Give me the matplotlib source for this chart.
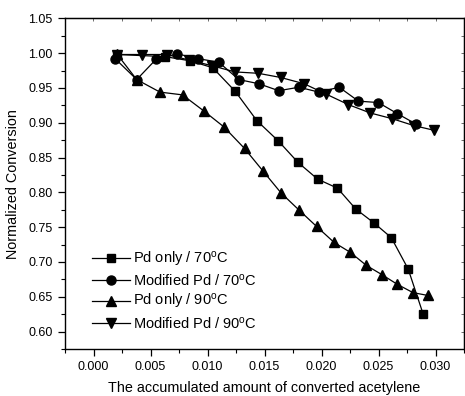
import matplotlib
matplotlib.use("Agg")
import matplotlib.pyplot as plt

plt.rcParams['font.family'] = ['Liberation Sans', 'DejaVu Sans']
plt.rcParams['mathtext.fontset'] = 'custom'
plt.rcParams['mathtext.rm'] = 'Liberation Sans'
plt.rcParams['mathtext.it'] = 'Liberation Sans:italic'

# Pd only / 70C
x_pd70 = [0.00204, 0.00626, 0.00845, 0.01046, 0.01244, 0.01433, 0.01620, 0.01794,
          0.01966, 0.02140, 0.02301, 0.02461, 0.02612, 0.02760, 0.02892]
y_pd70 = [0.998, 0.995, 0.989, 0.979, 0.945, 0.903, 0.874, 0.843,
          0.819, 0.806, 0.776, 0.756, 0.735, 0.690, 0.625]

# Modified Pd / 70C
x_mod70 = [0.00190, 0.00379, 0.00548, 0.00734, 0.00917, 0.01098, 0.01275, 0.01450,
           0.01625, 0.01802, 0.01977, 0.02155, 0.02324, 0.02498, 0.02666, 0.02830]
y_mod70 = [0.992, 0.962, 0.991, 0.999, 0.992, 0.987, 0.962, 0.956,
           0.946, 0.951, 0.944, 0.951, 0.931, 0.929, 0.913, 0.898]

# Pd only / 90C
x_pd90 = [0.00204, 0.00379, 0.00583, 0.00781, 0.00967, 0.01144, 0.01325, 0.01485,
          0.01646, 0.01800, 0.01957, 0.02111, 0.02251, 0.02394, 0.02528, 0.02664,
          0.02802, 0.02930]
y_pd90 = [0.999, 0.962, 0.944, 0.940, 0.917, 0.894, 0.863, 0.831,
          0.799, 0.775, 0.751, 0.728, 0.714, 0.695, 0.682, 0.668,
          0.656, 0.652]

# Modified Pd / 90C
x_mod90 = [0.00204, 0.00423, 0.00641, 0.00840, 0.01037, 0.01240, 0.01445, 0.01642,
           0.01847, 0.02042, 0.02236, 0.02428, 0.02616, 0.02808, 0.02991]
y_mod90 = [0.998, 0.998, 0.998, 0.990, 0.982, 0.973, 0.971, 0.965,
           0.956, 0.941, 0.926, 0.914, 0.906, 0.896, 0.889]

labels = ['Pd only / 70$^{\\rm o}$C', 'Modified Pd / 70$^{\\rm o}$C',
          'Pd only / 90$^{\\rm o}$C', 'Modified Pd / 90$^{\\rm o}$C']

x_ticks = [0.000, 0.005, 0.010, 0.015, 0.020, 0.025, 0.030]
y_ticks = [0.60, 0.65, 0.70, 0.75, 0.80, 0.85, 0.90, 0.95, 1.00, 1.05]

fig = plt.figure(figsize=(4.65, 3.96), dpi=100)
ax = fig.add_axes([65/465, 47/396, 399/465, 330.7/396])

series = [(x_pd70, y_pd70, 's', 5.5), (x_mod70, y_mod70, 'o', 6.5),
          (x_pd90, y_pd90, '^', 6.5), (x_mod90, y_mod90, 'v', 6.5)]
for (xs, ys, m, ms), lab in zip(series, labels):
    ax.plot(xs, ys, color='black', lw=0.9, marker=m, ms=ms,
            markerfacecolor='black', markeredgecolor='black', label=lab)

ax.set_xlim(-0.0025, 0.0324)
ax.set_ylim(0.575, 1.05)
ax.set_xticks(x_ticks)
ax.set_xticklabels([f'{v:.3f}' for v in x_ticks])
ax.set_yticks(y_ticks)
ax.set_yticklabels([f'{v:.2f}' for v in y_ticks])
ax.set_xticks([v + 0.0025 for v in [-0.005] + x_ticks], minor=True)
ax.set_yticks([v + 0.025 for v in [0.55] + y_ticks[:-1]], minor=True)
ax.tick_params(which='major', direction='out', length=5, width=0.9, labelsize=9, pad=4)
ax.tick_params(which='minor', direction='out', length=3, width=0.8)
for s in ax.spines.values():
    s.set_linewidth(1.0)

# mirrored inward ticks on top and right
sx = ax.secondary_xaxis('top')
sx.set_xticks(x_ticks)
sx.set_xticks([v + 0.0025 for v in [-0.005] + x_ticks], minor=True)
sx.tick_params(which='both', direction='in', length=2.5, width=0.6, labeltop=False, colors='#555555')
sx.spines['top'].set_color('black')
sy = ax.secondary_yaxis('right')
sy.set_yticks(y_ticks)
sy.set_yticks([v + 0.025 for v in [0.55] + y_ticks[:-1]], minor=True)
sy.tick_params(which='both', direction='in', length=2.5, width=0.6, labelright=False, colors='#555555')
sy.spines['right'].set_color('black')

ax.set_xlabel('The accumulated amount of converted acetylene', fontsize=10.4, labelpad=5.5)
ax.set_ylabel('Normalized Conversion', fontsize=10.4, labelpad=6)

leg = ax.legend(loc='upper left', bbox_to_anchor=(0.068, 0.30), frameon=False,
                fontsize=10.5, numpoints=1, handlelength=2.6, handletextpad=0.2,
                labelspacing=0.26, borderpad=0, borderaxespad=0)

fig.savefig('out.png', dpi=100)
